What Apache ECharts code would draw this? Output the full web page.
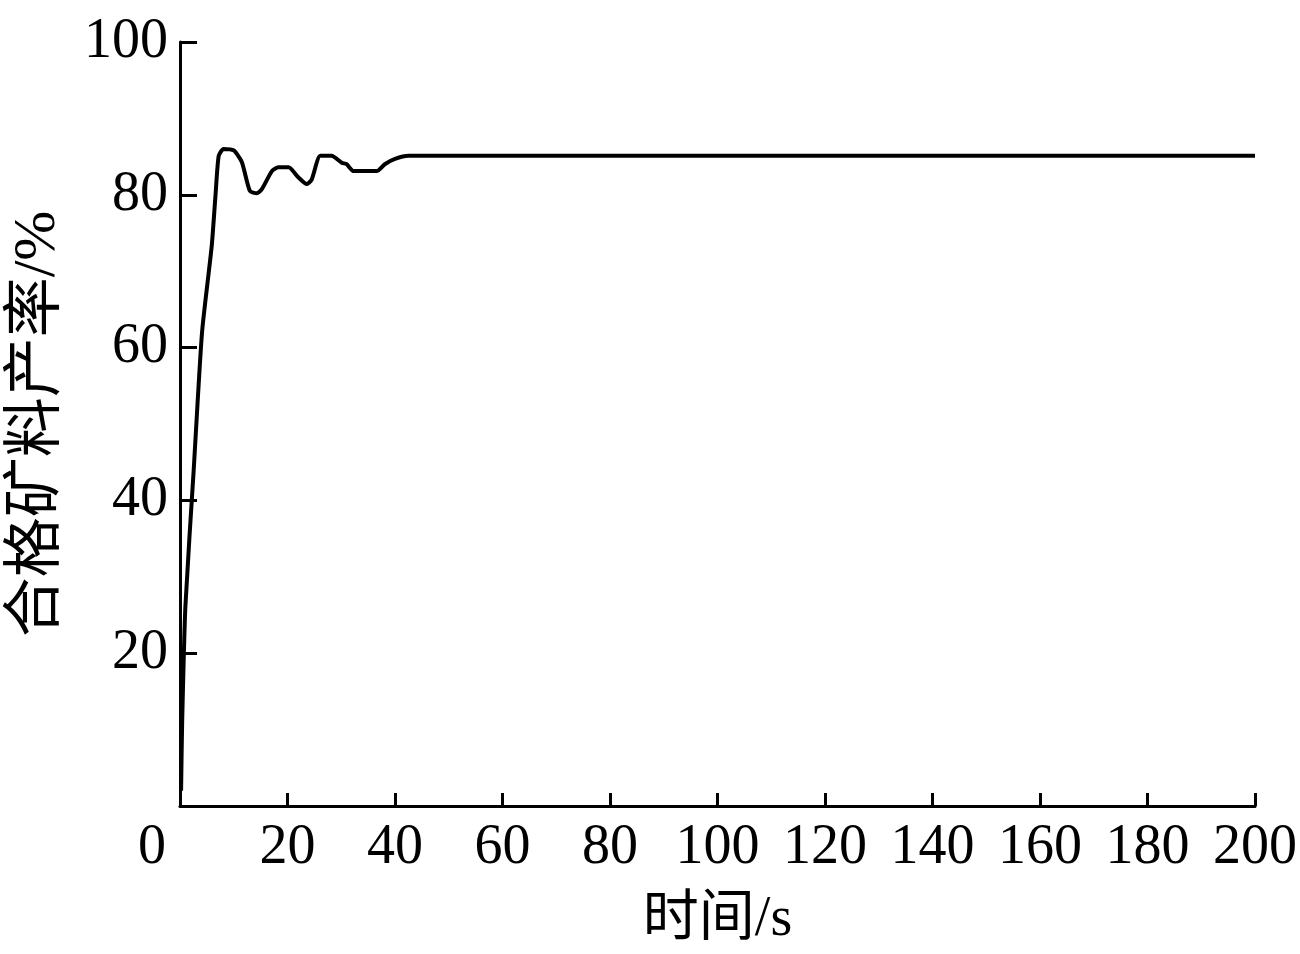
<!DOCTYPE html>
<html>
<head>
<meta charset="utf-8">
<script src="https://cdn.jsdelivr.net/npm/echarts@6/dist/echarts.min.js"></script>
<style>
  html, body { margin: 0; padding: 0; background: #fff; }
  #chart { width: 1300px; height: 954px; }
</style>
</head>
<body>
<div id="chart"></div>
<script>
// 时间 (s)
const times = [0.2, 0.4, 1.0, 2.55, 4.1, 5.9, 6.6, 7.2, 8.1, 10, 11.5, 13, 14.3, 15.2, 17.1, 18.3, 20.2, 22, 23.6, 24.5, 26.1, 28.2, 30.1, 31, 32.3, 36.6, 38.1, 40, 42.5, 60, 100, 150, 200];
// 合格矿料产率 (%)
const rates = [2, 10.9, 26.1, 44, 62, 73.3, 79.9, 85.1, 86, 85.8, 84.3, 80.5, 80.2, 80.7, 83.1, 83.6, 83.6, 82.3, 81.4, 82, 85.1, 85.1, 84.2, 84, 83.1, 83.1, 84, 84.7, 85.1, 85.1, 85.1, 85.1, 85.1];
const xTicks = [0, 20, 40, 60, 80, 100, 120, 140, 160, 180, 200];
const yTicks = [20, 40, 60, 80, 100];

const font = '"Liberation Serif", "Noto Sans CJK SC", serif';
const points = times.map((t, i) => [t, rates[i]]);

const chart = echarts.init(document.getElementById('chart'));
chart.setOption({
  animation: false,
  backgroundColor: '#fff',
  grid: { left: 178, right: 45, top: 42, bottom: 148 },
  xAxis: {
    type: 'value',
    min: 0, max: 200, interval: 20,
    name: '时间/s',
    nameLocation: 'middle',
    nameGap: 86,
    nameTextStyle: { fontFamily: font, fontSize: 56, color: '#000' },
    axisLine: { lineStyle: { color: '#000', width: 3 } },
    axisTick: { inside: true, length: 13, lineStyle: { color: '#000', width: 3 } },
    splitLine: { show: false },
    axisLabel: {
      margin: 14,
      fontFamily: font, fontSize: 56, color: '#000',
      formatter: v => xTicks.includes(v) ? (v === 0 ? '{z|0}' : String(v)) : '',
      rich: { z: { fontFamily: font, fontSize: 56, color: '#000', padding: [0, 56, 0, 0] } }
    }
  },
  yAxis: {
    type: 'value',
    min: 0, max: 100, interval: 20,
    name: '合格矿料产率/%',
    nameLocation: 'middle',
    nameGap: 112,
    nameTextStyle: { fontFamily: font, fontSize: 60, color: '#000' },
    axisLine: { show: true, lineStyle: { color: '#000', width: 3 } },
    axisTick: { inside: true, length: 17, lineStyle: { color: '#000', width: 3 } },
    splitLine: { show: false },
    axisLabel: {
      margin: 12,
      fontFamily: font, fontSize: 56, color: '#000',
      formatter: v => yTicks.includes(v) ? String(v) : ''
    }
  },
  series: [{
    type: 'line',
    data: points,
    showSymbol: false,
    smooth: 0.2,
    lineStyle: { color: '#000', width: 4 }
  }]
});
</script>
</body>
</html>
